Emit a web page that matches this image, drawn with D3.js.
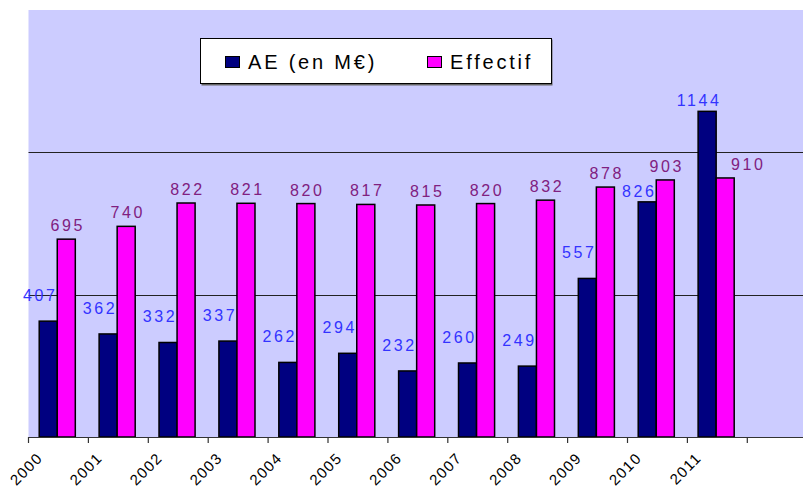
<!DOCTYPE html>
<html>
<head>
<meta charset="utf-8">
<script src="https://cdn.jsdelivr.net/npm/d3@7"></script>
<style>
  body { margin: 0; background: #fff; }
  svg { display: block; font-family: Arial, "Liberation Sans", sans-serif; }
</style>
</head>
<body>
<div id="chart"></div>
<script>
// values
var years = ["2000","2001","2002","2003","2004","2005","2006","2007","2008","2009","2010","2011"];
var aeValues = [407, 362, 332, 337, 262, 294, 232, 260, 249, 557, 826, 1144];
var effectifValues = [695, 740, 822, 821, 820, 817, 815, 820, 832, 878, 903, 910];
var seriesNames = ["AE (en M\u20ac)", "Effectif"];
var yTicks = [500, 1000];

var width = 803, height = 489;
var plot = {left: 28.5, top: 10, bottom: 437};
var step = 59.9;

var svg = d3.select("#chart").append("svg")
    .attr("width", width)
    .attr("height", height);

// one empty category at the end, like the original sheet
var cats = years.concat([""]);

var x = d3.scaleBand()
    .domain(cats)
    .range([plot.left, plot.left + cats.length * step])
    .padding(0);

var x1 = d3.scaleBand()
    .domain(["ae", "eff"])
    .range([0, x.bandwidth()])
    .paddingInner(0)
    .paddingOuter(0.66)
    .align(0.45);

var y = d3.scaleLinear()
    .domain([0, 1500])
    .range([plot.bottom, plot.top]);

var colors = {ae: "#000080", eff: "#ff00ff"};

// plot background
svg.append("rect")
    .attr("x", plot.left)
    .attr("y", plot.top)
    .attr("width", width - plot.left)
    .attr("height", plot.bottom - plot.top)
    .attr("fill", "#ccccff");

// gridlines
svg.selectAll(".grid")
    .data(yTicks)
    .enter().append("line")
    .attr("class", "grid")
    .attr("x1", plot.left)
    .attr("x2", width)
    .attr("y1", function(d) { return Math.round(y(d)) + 0.5; })
    .attr("y2", function(d) { return Math.round(y(d)) + 0.5; })
    .attr("stroke", "#222")
    .attr("stroke-width", 1);

var rows = years.map(function(yr, i) {
  return {year: yr, ae: aeValues[i], eff: effectifValues[i]};
});

var groups = svg.selectAll(".year")
    .data(rows)
    .enter().append("g")
    .attr("class", "year")
    .attr("transform", function(d) { return "translate(" + x(d.year) + ",0)"; });

groups.selectAll("rect")
    .data(function(d) { return [{key: "ae", v: d.ae}, {key: "eff", v: d.eff}]; })
    .enter().append("rect")
    .attr("x", function(d) { return x1(d.key); })
    .attr("y", function(d) { return y(d.v); })
    .attr("width", x1.bandwidth())
    .attr("height", function(d) { return plot.bottom - y(d.v); })
    .attr("fill", function(d) { return colors[d.key]; })
    .attr("stroke", "#000")
    .attr("stroke-width", 1.5);

// value labels
groups.append("text")
    .attr("x", function(d) { return x1("ae") + 1; })
    .attr("y", function(d) {
      var ly = y(d.ae) - 20;
      // tall AE bars: label sits close to the bar top
      if (ly < y(d.eff) + 10) ly = y(d.ae) - 5;
      return ly;
    })
    .attr("text-anchor", "middle")
    .attr("font-size", 16)
    .attr("letter-spacing", 2.6)
    .attr("fill", "#3333ff")
    .text(function(d) { return d.ae; });

groups.append("text")
    .attr("x", function(d) {
      var effY = y(d.eff) - 8;
      // move aside when the AE bar would hide the label
      if (y(d.ae) < effY) return x1("eff") + x1.bandwidth() + 14;
      return x1("eff") + x1.bandwidth() / 2 + 1.5;
    })
    .attr("y", function(d) { return y(d.eff) - 8; })
    .attr("text-anchor", "middle")
    .attr("font-size", 16)
    .attr("letter-spacing", 2.6)
    .attr("fill", "#802080")
    .text(function(d) { return d.eff; });

// x axis line + ticks
svg.append("line")
    .attr("x1", plot.left)
    .attr("x2", width)
    .attr("y1", plot.bottom + 0.5)
    .attr("y2", plot.bottom + 0.5)
    .attr("stroke", "#333")
    .attr("stroke-width", 1.2);

svg.selectAll(".tick")
    .data(cats)
    .enter().append("line")
    .attr("class", "tick")
    .attr("x1", function(d) { return x(d); })
    .attr("x2", function(d) { return x(d); })
    .attr("y1", plot.bottom)
    .attr("y2", plot.bottom + 6)
    .attr("stroke", "#333")
    .attr("stroke-width", 1.2);

svg.selectAll(".tlabel")
    .data(years)
    .enter().append("text")
    .attr("class", "tlabel")
    .attr("text-anchor", "end")
    .attr("font-size", 15)
    .attr("letter-spacing", 1.3)
    .attr("fill", "#000")
    .attr("transform", function(d) {
      return "translate(" + (x(d) + 15) + "," + 459 + ") rotate(-45)";
    })
    .text(function(d) { return d; });

// legend
var legend = svg.append("g").attr("transform", "translate(200,38)");
legend.append("rect")
    .attr("x", 1.5).attr("y", 1.5)
    .attr("width", 351).attr("height", 46)
    .attr("fill", "#666");
legend.append("rect")
    .attr("x", 0.5).attr("y", 0.5)
    .attr("width", 351).attr("height", 45)
    .attr("fill", "#fff")
    .attr("stroke", "#000")
    .attr("stroke-width", 1);

var legendX = [25, 227];
var item = legend.selectAll(".item")
    .data(["ae", "eff"])
    .enter().append("g")
    .attr("class", "item")
    .attr("transform", function(d, i) { return "translate(" + legendX[i] + ",0)"; });

item.append("rect")
    .attr("x", 0.5).attr("y", 18.5)
    .attr("width", 14).attr("height", 11)
    .attr("fill", function(d) { return colors[d]; })
    .attr("stroke", "#000")
    .attr("stroke-width", 1);

item.append("text")
    .attr("x", 23)
    .attr("y", 31)
    .attr("font-size", 20)
    .attr("letter-spacing", 2.8)
    .attr("fill", "#000")
    .text(function(d, i) { return seriesNames[i]; });
</script>
</body>
</html>
